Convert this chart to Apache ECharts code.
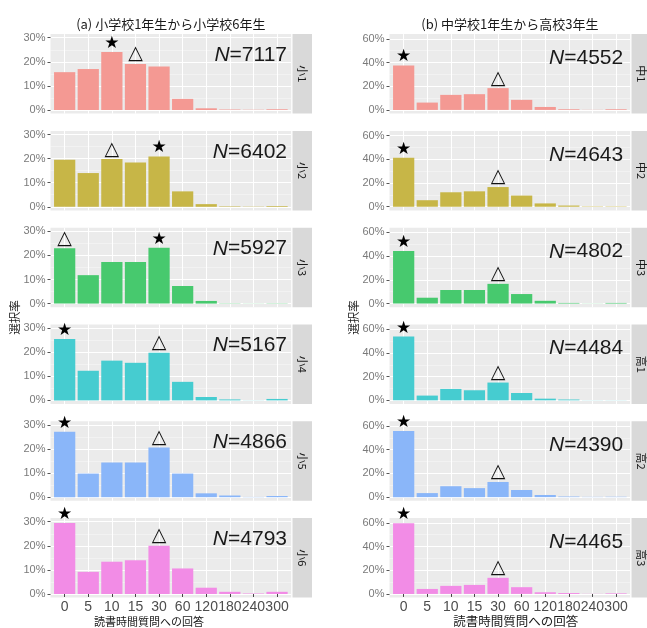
<!DOCTYPE html>
<html>
<head>
<meta charset="utf-8">
<script src="https://cdn.jsdelivr.net/npm/echarts@6/dist/echarts.min.js"></script>
<style>
html, body { margin: 0; padding: 0; background: #fff; }
#chart { width: 647px; height: 628px; }
</style>
</head>
<body>
<div id="chart"></div>
<script>
// Answer categories (minutes of reading per day)
const answerLabels = ['0', '5', '10', '15', '30', '60', '120', '180', '240', '300'];

// (a) elementary school, grades 1-6: share of each answer (%)
const elemGrades = ['小1', '小2', '小3', '小4', '小5', '小6'];
const elemN = [7117, 6402, 5927, 5167, 4866, 4793];
const elemG1 = [15.7, 17.0, 24.1, 19.1, 18.1, 4.6, 0.7, 0.2, 0.1, 0.3];
const elemG2 = [19.5, 14.0, 19.8, 18.4, 20.9, 6.4, 1.1, 0.2, 0.1, 0.3];
const elemG3 = [23.0, 11.8, 17.3, 17.3, 23.2, 7.3, 1.1, 0.1, 0.05, 0.1];
const elemG4 = [25.5, 12.3, 16.5, 15.6, 19.8, 7.7, 1.4, 0.4, 0.05, 0.6];
const elemG5 = [27.2, 9.8, 14.4, 14.4, 20.6, 9.8, 1.6, 0.7, 0.1, 0.5];
const elemG6 = [29.5, 9.2, 13.4, 14.0, 20.0, 10.6, 2.6, 0.9, 0.2, 0.9];
const elemStar = [2, 4, 4, 0, 0, 0];      // index of the ★ answer
const elemTriangle = [3, 2, 0, 4, 4, 4];  // index of the △ answer
const elemTicks = [0, 10, 20, 30];
const elemMinor = [5, 15, 25];

// (b) junior high 1 to senior high 3
const secGrades = ['中1', '中2', '中3', '高1', '高2', '高3'];
const secN = [4552, 4643, 4802, 4484, 4390, 4465];
const secG1 = [37.6, 6.2, 12.7, 13.3, 18.4, 8.5, 2.5, 0.6, 0.1, 0.6];
const secG2 = [41.4, 5.5, 12.2, 13.0, 16.6, 9.4, 2.8, 1.0, 0.3, 0.3];
const secG3 = [44.3, 4.9, 11.4, 11.4, 16.6, 8.0, 2.3, 0.5, 0.1, 0.5];
const secG4 = [53.8, 4.0, 9.6, 8.5, 15.0, 6.2, 1.4, 0.7, 0.1, 0.1];
const secG5 = [55.8, 3.4, 9.2, 7.6, 12.8, 6.0, 1.8, 0.5, 0.2, 0.3];
const secG6 = [59.6, 4.2, 6.8, 7.6, 13.6, 5.7, 1.4, 0.8, 0.1, 0.5];
const secStar = [0, 0, 0, 0, 0, 0];
const secTriangle = [4, 4, 4, 4, 4, 4];
const secTicks = [0, 20, 40, 60];
const secMinor = [10, 30, 50];

// one fill per grade row
const rowColors = ['#F49993', '#C7B647', '#47C96E', '#46CCD0', '#8AB6F9', '#F28CE6'];

const LATIN = '"Liberation Sans", Arial, sans-serif';
const CJK = '"Noto Sans CJK JP", sans-serif';
const SYMBOL = '"DejaVu Sans", sans-serif';

// panel layout
const PANEL_W = 240.7;
const PANEL_H = 79.5;
const ROW_TOP = 34.1;
const ROW_STEP = 96.8;
const STRIP_GAP = 1.3;
const STRIP_W = 19.5;
const TEXT_Z = 100;

const columns = [
  {
    left: 50.5,
    title: '(a) 小学校1年生から小学校6年生',
    xTitleX: 149, xTitleSize: 11,
    yTitleX: 15,
    grades: elemGrades, counts: elemN,
    values: [elemG1, elemG2, elemG3, elemG4, elemG5, elemG6],
    star: elemStar, triangle: elemTriangle,
    ticks: elemTicks, minor: elemMinor,
    yMin: -1.5, yMax: 31.5,
    nInset: 4.2, nDy: 21
  },
  {
    left: 389.5,
    title: '(b) 中学校1年生から高校3年生',
    xTitleX: 515.8, xTitleSize: 12.5,
    yTitleX: 354,
    grades: secGrades, counts: secN,
    values: [secG1, secG2, secG3, secG4, secG5, secG6],
    star: secStar, triangle: secTriangle,
    ticks: secTicks, minor: secMinor,
    yMin: -3.1, yMax: 64.0,
    nInset: 7, nDy: 24
  }
];

const xPositions = answerLabels.map((_, i) => i + 1);

const grids = [], xAxes = [], yAxes = [], series = [], graphics = [];

columns.forEach(col => {
  const centerX = col.left + PANEL_W / 2;
  graphics.push({
    type: 'text', x: centerX, y: 24, z: TEXT_Z,
    style: { text: col.title, align: 'center', verticalAlign: 'middle',
             fontSize: 13, fontFamily: CJK, fill: '#1a1a1a' }
  });
  graphics.push({
    type: 'text', x: col.xTitleX, y: 621.5, z: TEXT_Z,
    style: { text: '読書時間質問への回答', align: 'center', verticalAlign: 'middle',
             fontSize: col.xTitleSize, fontFamily: CJK, fill: '#1a1a1a' }
  });
  graphics.push({
    type: 'text', x: col.yTitleX, y: 317.5, rotation: Math.PI / 2, z: TEXT_Z,
    style: { text: '選択率', align: 'center', verticalAlign: 'middle',
             fontSize: 11.5, fontFamily: CJK, fill: '#1a1a1a' }
  });

  col.values.forEach((vals, r) => {
    const gi = grids.length;
    const top = ROW_TOP + r * ROW_STEP;
    const isBottom = r === col.values.length - 1;

    grids.push({
      left: col.left, top: top, width: PANEL_W, height: PANEL_H,
      show: true, backgroundColor: '#EBEBEB', borderWidth: 0
    });

    xAxes.push({
      gridIndex: gi, type: 'value', min: 0.4, max: 10.6,
      axisLine: { show: false },
      axisTick: { show: isBottom, customValues: xPositions, length: 3,
                  lineStyle: { color: '#444', width: 1 } },
      axisLabel: { show: isBottom, customValues: xPositions, margin: 3,
                   formatter: v => answerLabels[Math.round(v) - 1],
                   fontSize: 14, fontFamily: LATIN, color: '#4d4d4d' },
      splitLine: { show: true, lineStyle: { color: '#ffffff', width: 1 } }
    });

    const yi = yAxes.length;
    yAxes.push({
      gridIndex: gi, type: 'value', min: col.yMin, max: col.yMax,
      axisLine: { show: false },
      axisTick: { show: true, customValues: col.ticks, length: 3,
                  lineStyle: { color: '#555', width: 1 } },
      axisLabel: { customValues: col.ticks, margin: 5,
                   formatter: v => v + '%',
                   fontSize: 11, fontFamily: LATIN, color: '#7a7a7a' },
      splitLine: { show: true, lineStyle: { color: '#ffffff', width: 1 } }
    });
    yAxes.push({
      gridIndex: gi, type: 'value', min: col.yMin, max: col.yMax, position: 'left',
      axisLine: { show: false },
      axisTick: { show: false, customValues: col.minor },
      axisLabel: { show: false },
      splitLine: { show: true, lineStyle: { color: 'rgba(255,255,255,0.75)', width: 0.5 } }
    });

    const data = vals.map((v, i) => {
      const item = { value: [i + 1, v] };
      if (i === col.star[r]) {
        item.label = { show: true, position: 'top', distance: 0, formatter: '★',
                       fontSize: 17, fontFamily: SYMBOL, color: '#000' };
      } else if (i === col.triangle[r]) {
        item.label = { show: true, position: 'top', distance: 0, formatter: '△',
                       fontSize: 19, fontWeight: 'bold', fontFamily: SYMBOL, color: '#111' };
      }
      return item;
    });

    series.push({
      type: 'bar', xAxisIndex: gi, yAxisIndex: yi,
      barWidth: '90%', clip: false, silent: true, animation: false,
      itemStyle: { color: rowColors[r] },
      data: data
    });

    // sample size
    graphics.push({
      type: 'text', x: col.left + PANEL_W - col.nInset, y: top + col.nDy, z: TEXT_Z,
      style: {
        text: '{i|N}{n|=' + col.counts[r] + '}',
        align: 'right', verticalAlign: 'middle',
        rich: {
          i: { fontStyle: 'italic', fontSize: 21, fontFamily: LATIN, fill: '#1a1a1a', color: '#1a1a1a' },
          n: { fontSize: 21, fontFamily: LATIN, fill: '#1a1a1a', color: '#1a1a1a' }
        }
      }
    });

    // facet strip
    const sx = col.left + PANEL_W + STRIP_GAP;
    graphics.push({
      type: 'rect', shape: { x: sx, y: top, width: STRIP_W, height: PANEL_H },
      style: { fill: '#D9D9D9' }
    });
    graphics.push({
      type: 'text', x: sx + STRIP_W / 2, y: top + PANEL_H / 2, rotation: -Math.PI / 2, z: TEXT_Z,
      style: { text: col.grades[r], align: 'center', verticalAlign: 'middle',
               fontSize: 11, fontFamily: CJK, fill: '#1a1a1a' }
    });
  });
});

const chart = echarts.init(document.getElementById('chart'), null, { renderer: 'canvas' });
chart.setOption({
  animation: false,
  backgroundColor: '#ffffff',
  grid: grids,
  xAxis: xAxes,
  yAxis: yAxes,
  series: series,
  graphic: graphics
});
</script>
</body>
</html>
